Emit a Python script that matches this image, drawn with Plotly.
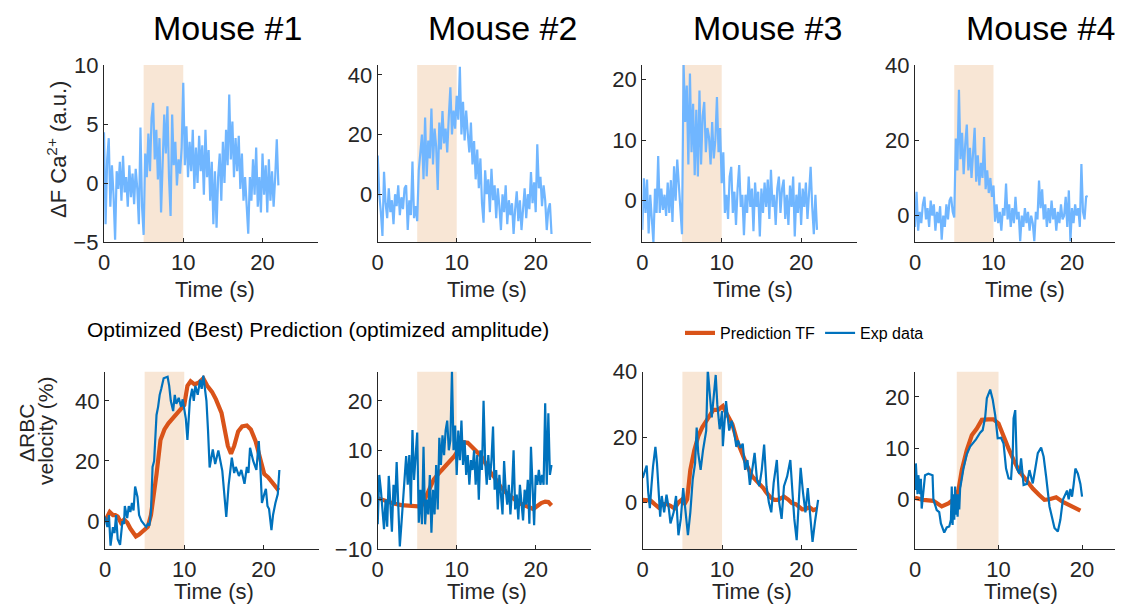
import numpy as np
import plotly.graph_objects as go

# ---------------- data ----------------
mouse_titles = ["Mouse #1", "Mouse #2", "Mouse #3", "Mouse #4"]
xtick_vals = [0, 10, 20]

# Top row: Ca2+ dF traces, sampled every 0.2 s from 0 to 22 s
ca_m1 = [4.3, -3.5, 2.0, 3.8, -2.0, 1.5, -1.0, -4.8, 1.0, -0.5, 1.8, -1.5, 2.3, -0.8, 0.5, -2.0, 1.5, -1.2, 0.8, -1.8,
         1.2, -0.5, -3.5, 4.7, -2.0, -4.4, 2.5, 0.5, 4.2, 1.0, 5.5, 6.8, 2.0, 4.5, 0.3, 3.8, -2.5, 1.5, 5.8, 2.5,
         6.5, 0.5, -2.8, 5.8, 1.5, 3.5, -0.2, 2.0, 0.8, 3.0, 8.5, 1.5, 4.8, 0.5, 3.5, 1.0, 4.5, -0.5, 3.0, 0.0,
         4.0, 1.0, 3.2, -1.0, 4.5, 0.5, 2.8, -1.5, 1.8, -3.5, 1.0, -3.8, 0.5, 2.5, -1.5, 3.5, 0.0, 4.5, 1.5, 7.5,
         2.0, 5.2, 0.5, 3.8, 1.0, 4.0, -0.5, 2.5, -1.5, 0.5, -2.0, -4.3, 0.5, -1.5, 2.0, -1.0, 3.0, -2.0, 0.5, -2.5,
         2.5, -1.0, 1.5, -2.5, 2.0, -1.5, 1.0, -2.0, 0.5, 3.7, -0.2]
ca_m2 = [13, 0, -6, -14, 7.5, -3, -8, 2, -6, -2, -10, 0, -4, 3, -7, -1, -5, 2, 3, -12,
         -2, -7, 11, -8, -4, -9, 8, 14, 20, 5, 25.7, 6, 18, 12, 28.7, 10, 22, 16, 1.4, 24,
         15, 27.9, 17, 22, 14, 26, 35.8, 20, 28, 22, 33, 25, 42.7, 20, 31, 18, 28, 20.5, 14, 24,
         10, 17.8, 5, 15, 2, 12, -3, -9.5, 8, 0, 5, -6, 8.5, -2, 3, -8, 2, -4, -12, 0,
         -6, 3, -10, -2, -7, -3, -13.3, -5, 1, -9, -2, -12, -4, 2, -8, 0, -5, 7.4, -3, 4,
         -6, 16.7, 2, 5.8, -4, 3, -2, -12, -5, -3, -13.3]
ca_m3 = [-4.8, 3.7, -2, 3.5, -5.4, 1, -3, -6.9, 2, -2, 7.4, -2, 2, -1.5, 1, -2.5, 3, -2, 3.4, -3.5,
         5.7, 0, 6.8, 2, -1, -5.5, 22.5, 13, 19, 6, 21, 8, 16, 4.2, 15, 4, 18.2, 6, 14, 16.3,
         8, 12, 10.5, 6, 13, 7, 10, 17.1, 8, 12, 2.9, 8, -2, 1, -3, 4, 5.6, -2, 1.5, -4,
         2, 5.9, -1, 1, -5.7, 1, -2, 4, -1, 2, -5, 3, -1, 1.5, -5.9, 2, -2, 3, -1, 3.5,
         -3, 5.1, -1, 1, -4, 2, 4, -2, 2, 3.5, -3, 1, -4, 2.5, -1, 4, -5.9, 1, -2, 3,
         -4, 2, -1, 3, -3, 1, 5.6, -1, -5.5, 1, -4.8]
ca_m4 = [-3, 6.3, -4, 1, -2, 3, 5, -1, 2, -3, 4, 0, 3, -4, 1, -2, 2.5, -6.4, 0, -3,
         3, -1, 4, 5, 1, -0.5, 20.5, 12, 33.4, 15, 22, 11, 19, 24.2, 12, 18, 10, 17, 23.3, 9,
         16, 8, 14, 10, 20.9, 7, 12, 6, 10, 5, 8, -1.6, 3, -2, 1, -4, 2, 0, 8.5, -1,
         3, -3, 2, -2, 5, -1, 1, -6.8, 0, -3, 2, -2, 1, -4, 0, -2, -6.8, 1, -1, 9.3,
         2, 7, -1, 3, -3, 2, -2, 4, -1, 2, -4, 1, -2, 3, -1, 0, 5, -3, 6.7, -6.8,
         2, -2, 3, 0, 2, -3, 13.7, 1, -1, 5, 5.2]

# Bottom row: RBC velocity, experimental data (time, value)
exp_t1 = [0.0, 0.3, 0.5, 0.7, 1.0, 1.2, 1.4, 1.6, 1.9, 2.2, 2.4, 2.5, 2.8, 3.0, 3.2, 3.4, 3.6, 3.8, 4.1, 4.3,
          4.6, 4.9, 5.2, 5.4, 5.6, 5.8, 6.0, 6.2, 6.5, 6.7, 6.9, 7.1, 7.4, 7.9, 8.1, 8.3, 8.6, 8.8, 9.0, 9.3,
          9.6, 9.8, 10.2, 10.4, 10.7, 11.0, 11.2, 11.4, 11.7, 12.0, 12.2, 12.4, 12.6, 12.8, 13.0, 13.1, 13.2, 13.6, 13.9, 14.3,
          14.8, 15.3, 15.6, 16.0, 16.3, 16.5, 16.9, 17.2, 17.6, 17.9, 18.1, 18.3, 18.7, 19.1, 19.4, 19.6, 19.8, 20.1, 20.3, 20.5,
          20.7, 21.0, 21.2, 21.5, 21.8, 22.0]
exp_v1 = [1.4, -2, 2, -8.2, -2, -4, 2, -6, -7.9, 0, -1, 5, 1, 5, 3, 6, 3.5, 11.5, 8, 2,
          0, -1, -2, -1, -1.5, 3, 18, 20, 35.3, 38, 42, 44, 47.5, 48, 45, 40, 36.6, 42, 39, 41,
          38, 40.5, 34, 27, 40, 44, 40, 45, 42, 47, 44, 48.4, 44, 40, 30, 23.5, 17.8, 23.8, 19, 23.5,
          16.7, 1.4, 12, 21.1, 16, 18, 15, 17, 12.4, 18, 16, 24.4, 20, 17, 26.6, 18, 6, 9, 10.7, 5,
          4, -3, 2, 6, 9, 17]
pred_t1 = [0, 0.6, 1.0, 1.3, 1.6, 2.0, 2.4, 2.8, 3.2, 3.6, 3.9, 4.3, 4.7, 5.0, 5.4, 5.8, 6.1, 6.5, 7.0, 7.5,
           8.0, 8.5, 8.9, 9.5, 10.0, 10.4, 10.8, 11.3, 11.8, 12.4, 12.9, 13.5, 14.0, 14.7, 15.1, 15.5, 15.9, 16.3, 16.8, 17.3,
           17.9, 18.4, 19.0, 19.6, 20.1, 20.6, 21.0, 21.5, 21.9]
pred_v1 = [0, 3, 2, 2, 1.5, -0.5, 0.5, -0.5, -2.5, -4, -5.1, -4.5, -3.5, -3, -1.9, 2, 7, 15.6, 27, 30.5,
           32.5, 34, 35.3, 37, 38.6, 45, 46.5, 45.5, 46, 47.5, 45, 43, 40.5, 36, 31, 25, 22.4, 25, 29.8, 31.5,
           31.8, 30.5, 26.6, 21, 15.6, 14.5, 13, 11.5, 10.2]

exp_v2 = [-5, 5, 2, -2.2, -6, 0, -5.5, 4.8, 0, -6.5, 3, -1, 7.6, -2, -9.5, -5, 0, 5, 8.8, 3,
          9, -1, 14.1, 4, 8, 13.6, -4.7, 2, -5, 10.7, -5, 0, -3, 5, -6.7, 2, -3, 7, -2, 12.5,
          7, 13, 9, 14, 16, 10, 12, 26, 10, 15, 5, 14, 8, 16, 7, 12, 5, 9, 3, 8,
          6, 10, 3, 9, 0, 10, 6, 20, 8, 3, 9, 4, 8, 14.8, 2, 6, -2, 5, 1, -3,
          7.8, 2, -1, 3, -3, 2, 10, -2, 1, -4, 3, -1, -4.2, 2, -1, 4, -4.9, 10.7, 1, -5.2,
          5, 3, 6, 3, 5, 3, 19.5, 3, 17.5, 5, 7]
pred_t2 = [0, 1, 2, 3, 4, 5, 5.5, 6.0, 6.5, 7.1, 8.0, 8.8, 9.7, 10.4, 10.9, 11.4, 11.8, 12.5, 13.1, 13.7,
           14.3, 15.0, 15.6, 16.2, 16.9, 17.5, 18.2, 19.0, 19.7, 20.2, 20.7, 21.2, 21.6, 22.0]
pred_v2 = [0.3, -0.3, -0.8, -1.1, -1.3, -1.4, -1.4, 0.2, 2, 4.1, 5.8, 7.2, 8.8, 10.5, 11.6, 11.5, 10.9, 9.8, 8.8, 7.2,
           5.5, 4, 2.5, 1.5, 0.5, -0.2, -0.9, -1.4, -1.9, -1.3, -0.7, -0.4, -0.5, -1.2]

exp_t3 = [0.0, 0.5, 0.7, 0.9, 1.1, 1.3, 1.6, 1.8, 2.2, 2.4, 2.7, 3.0, 3.3, 3.5, 3.9, 4.2, 4.5, 4.8, 5.1, 5.4,
          5.7, 6.0, 6.3, 6.6, 6.8, 7.0, 7.3, 7.6, 8.0, 8.2, 8.5, 8.7, 9.2, 9.4, 9.7, 10.0, 10.1, 10.5, 10.9, 11.2,
          11.5, 11.8, 12.0, 12.3, 12.6, 12.9, 13.2, 13.5, 13.8, 14.1, 14.4, 14.7, 15.0, 15.3, 15.6, 15.9, 16.2, 16.5, 16.9, 17.2,
          17.5, 17.8, 18.2, 18.6, 18.9, 19.1, 19.4, 19.7, 19.9, 20.2, 20.5, 20.8, 21.1, 21.4, 21.7, 22.1]
exp_v3 = [7.5, 11.3, 3, -1.7, 5, 11, 17, 12, -4.3, 2, -3, 2.4, -2, -6.4, -3, 2, -10, -5, 4.4, -3,
          -10, -3, 7, 12, 22.9, 15, 10, 16, 22, 40.6, 30, 26, 39, 30, 22.4, 28, 17.2, 31, 22, 25,
          21.8, 17, 19, 16.7, 18, 10, 13, 5.4, 10, 15.2, 7, 5, 10, 17.7, 5, 0, -3, 6, 13, 0,
          -5, 5, 8, 13, 2, -5, -11.5, 3, 10.6, 3, -3, 4.4, -5, -12, -6, 0.8]
pred_t3 = [0, 1.0, 1.5, 2.0, 2.5, 3.0, 3.5, 4.0, 4.5, 4.9, 5.3, 5.6, 6.0, 6.5, 7.0, 7.5, 8.0, 8.5, 8.9, 9.5,
           10.1, 10.5, 11.3, 11.9, 12.5, 13.2, 13.8, 14.4, 15.2, 15.6, 16.1, 16.6, 17.0, 17.8, 18.3, 18.8, 19.3, 20.1, 20.5, 21.0,
           21.5, 21.9]
pred_v3 = [0.8, 0.6, -0.5, -1.5, -0.5, -0.5, -1, -1.8, 0, 0.8, -0.3, 1, 10, 16, 20.3, 23, 24.9, 27, 28.3, 28.3,
           29.5, 27.5, 23.9, 18.8, 15, 11, 8, 6.5, 4.4, 3, 1.6, 0.8, 0.8, 1.8, 1, -0.2, -0.5, -2.1, -2, -1.4,
           -2.3, -2]

exp_t4 = [0.0, 0.1, 0.3, 0.4, 0.6, 0.7, 0.8, 1.0, 1.2, 1.6, 2.1, 2.2, 2.6, 2.9, 3.1, 3.5, 3.8, 4.1, 4.3, 4.4,
          4.5, 4.6, 4.7, 4.8, 4.9, 5.0, 5.1, 5.2, 5.3, 5.4, 5.8, 6.2, 6.6, 7.3, 7.8, 8.1, 8.4, 8.6, 9.0, 9.3,
          9.6, 9.9, 10.3, 10.6, 10.9, 11.2, 11.5, 11.7, 11.8, 12.0, 12.2, 12.5, 12.7, 13.0, 13.4, 13.7, 14.1, 14.4, 14.7, 15.1,
          15.4, 15.7, 16.1, 16.7, 17.1, 17.4, 17.7, 18.2, 18.4, 18.6, 18.8, 19.0, 19.2, 19.5, 19.8, 20.0]
exp_v4 = [1.8, 7, 1, 4.7, 1, 4, -1.8, 2, 4.7, 5, 4.7, 0, -2.1, -2.5, -4.7, -6.5, -5.5, -5.3, -4, 2.5,
          -5, 1, -4, 2.5, -3, 1, -3.4, 1, -2, 2.1, 6, 8.8, 10.3, 11.7, 13, 13.5, 16, 19.7, 21.4, 19.5,
          16.4, 11.9, 12, 10.9, 6, 4.1, 4, 9, 15.8, 17.4, 6, 5, 8, 2.8, 3, 5.7, 3.1, 6, 9, 10.1,
          8.3, 4.4, -1.4, -5.6, -6.3, -4, -0.1, 1.7, 0, 2, 0.5, 3, 6, 5, 3, 0.5]
pred_t4 = [0, 1.0, 2.2, 2.8, 3.2, 4.0, 4.8, 5.2, 5.6, 6.2, 6.8, 7.4, 8.0, 8.8, 9.4, 10.0, 10.6, 11.2, 11.8, 12.5,
           13.3, 14.1, 14.9, 15.5, 16.1, 16.9, 17.7, 18.5, 19.3, 19.8]
pred_v4 = [0.3, -0.1, -0.3, -1.1, -1.4, -0.8, 0.2, 1.8, 5.7, 9.6, 12.5, 13.8, 15.5, 15.6, 15.6, 14.8, 12.2, 9.9, 7.7, 5.4,
           3.8, 2.1, 0.8, -0.1, 0, 0.4, -0.5, -1.1, -1.8, -2.2]

top_series = [ca_m1, ca_m2, ca_m3, ca_m4]
exp_series = [(exp_t1, exp_v1), (list(np.linspace(0, 22, len(exp_v2))), exp_v2), (exp_t3, exp_v3), (exp_t4, exp_v4)]
pred_series = [(pred_t1, pred_v1), (pred_t2, pred_v2), (pred_t3, pred_v3), (pred_t4, pred_v4)]

top_yranges = [[-5, 10], [-16, 43.3], [-6.8, 22.4], [-7, 40]]
top_yticks = [[-5, 0, 5, 10], [0, 20, 40], [0, 10, 20], [0, 20, 40]]
bot_yranges = [[-9.3, 49.7], [-10, 25.9], [-14.2, 40], [-9.7, 24.9]]
bot_yticks = [[0, 20, 40], [-10, 0, 10, 20], [0, 20, 40], [0, 10, 20]]
top_xranges = [[0, 27], [0, 27], [0, 27], [0, 26.5]]
bot_xranges = [[0, 27], [0, 27], [0, 27], [0, 24.9]]
stim_window = [5, 10]

# ---------------- layout helpers ----------------
# The page body keeps its default 8px margin, so the figure is drawn 8px in from the
# window corner; size it to fill the rest of the 1123x610 window exactly.
OFF = 8
WIN_W, WIN_H = 1123, 610
W, H = WIN_W - OFF, WIN_H - OFF

def fx(px):
    return (px - OFF) / W

def fy(py):
    return 1 - (py - OFF) / H

def sfx(k):
    return "" if k == 1 else str(k)

top_dom_y = [fy(242), fy(65)]
bot_dom_y = [fy(549), fy(371.7)]
top_dom_x = [(104, 318), (377.7, 591), (642.3, 856.7), (915, 1123)]
bot_dom_x = [(105, 319), (377.7, 591), (642.7, 857), (915, 1123)]

LIGHT_BLUE = "rgb(112,182,255)"
BLUE = "#0072BD"
ORANGE = "#D95319"
SHADE = "rgb(248,230,213)"
AXC = "#262626"
FONT = "Liberation Sans, Arial, sans-serif"

fig = go.Figure()

def axis_style(dom, rng, tickvals):
    return dict(domain=[max(0.0, dom[0]), min(1.0, dom[1])], range=rng, tickvals=tickvals, showline=True,
                linecolor=AXC, linewidth=1.3,
                ticks="inside", ticklen=4, tickwidth=1, tickcolor=AXC, showgrid=False, zeroline=False,
                mirror=False, fixedrange=True, automargin=False,
                tickfont=dict(family=FONT, size=22, color=AXC))

layout_axes = {}
shapes = []
for i in range(4):
    k = i + 1
    s = sfx(k)
    # top
    t = list(np.linspace(0, 22, len(top_series[i])))
    fig.add_trace(go.Scatter(x=t, y=top_series[i], mode="lines", line=dict(color=LIGHT_BLUE, width=2.2),
                             xaxis=f"x{s}", yaxis=f"y{s}", showlegend=False, hoverinfo="skip"))
    layout_axes[f"xaxis{k}"] = axis_style([fx(top_dom_x[i][0]), fx(top_dom_x[i][1])], top_xranges[i], xtick_vals)
    layout_axes[f"xaxis{k}"]["anchor"] = f"y{s}"
    layout_axes[f"yaxis{k}"] = axis_style(top_dom_y, top_yranges[i], top_yticks[i])
    layout_axes[f"yaxis{k}"]["anchor"] = f"x{s}"
    shapes.append(dict(type="rect", xref=f"x{s}", yref=f"y{s} domain", x0=stim_window[0], x1=stim_window[1],
                       y0=0, y1=1, fillcolor=SHADE, line=dict(width=0), layer="below"))
    # bottom
    kb = i + 5
    sb = sfx(kb)
    et, ev = exp_series[i]
    pt, pv = pred_series[i]
    fig.add_trace(go.Scatter(x=pt, y=pv, mode="lines", line=dict(color=ORANGE, width=4.2),
                             xaxis=f"x{sb}", yaxis=f"y{sb}", name="Prediction TF", showlegend=(i == 0),
                             hoverinfo="skip"))
    fig.add_trace(go.Scatter(x=et, y=ev, mode="lines", line=dict(color=BLUE, width=2.2),
                             xaxis=f"x{sb}", yaxis=f"y{sb}", name="Exp data", showlegend=(i == 0),
                             hoverinfo="skip"))
    layout_axes[f"xaxis{kb}"] = axis_style([fx(bot_dom_x[i][0]), fx(bot_dom_x[i][1])], bot_xranges[i], xtick_vals)
    layout_axes[f"xaxis{kb}"]["anchor"] = f"y{sb}"
    layout_axes[f"yaxis{kb}"] = axis_style(bot_dom_y, bot_yranges[i], bot_yticks[i])
    layout_axes[f"yaxis{kb}"]["anchor"] = f"x{sb}"
    shapes.append(dict(type="rect", xref=f"x{sb}", yref=f"y{sb} domain", x0=stim_window[0], x1=stim_window[1],
                       y0=0, y1=1, fillcolor=SHADE, line=dict(width=0), layer="below"))

annotations = []
title_cx = [228, 502, 767, 1040]
for i, ttl in enumerate(mouse_titles):
    annotations.append(dict(text=ttl, x=fx(title_cx[i]), y=fy(8), xref="paper", yref="paper",
                            xanchor="center", yanchor="top", showarrow=False, borderpad=0,
                            font=dict(family=FONT, size=34, color="#000000")))
top_xl = [215, 487, 753, 1025]
bot_xl = [214, 487, 752, 1021]
for i in range(4):
    annotations.append(dict(text="Time (s)", x=fx(top_xl[i]), y=fy(289), xref="paper", yref="paper",
                            xanchor="center", yanchor="middle", showarrow=False,
                            font=dict(family=FONT, size=22, color=AXC)))
    annotations.append(dict(text=("Time(s)" if i == 3 else "Time (s)"), x=fx(bot_xl[i]), y=fy(591),
                            xref="paper", yref="paper", xanchor="center", yanchor="middle", showarrow=False,
                            font=dict(family=FONT, size=22, color=AXC)))
annotations.append(dict(text="ΔF Ca<sup>2+</sup> (a.u.)", x=fx(57), y=fy(150), xref="paper", yref="paper",
                        textangle=-90, xanchor="center", yanchor="middle", showarrow=False,
                        font=dict(family=FONT, size=22, color=AXC)))
annotations.append(dict(text="ΔRBC", x=fx(26), y=fy(433), xref="paper", yref="paper",
                        textangle=-90, xanchor="center", yanchor="middle", showarrow=False,
                        font=dict(family=FONT, size=21, color=AXC)))
annotations.append(dict(text="velocity (%)", x=fx(45), y=fy(431), xref="paper", yref="paper",
                        textangle=-90, xanchor="center", yanchor="middle", showarrow=False,
                        font=dict(family=FONT, size=21, color=AXC)))
annotations.append(dict(text="Optimized (Best) Prediction (optimized amplitude)", x=fx(85), y=fy(330),
                        xref="paper", yref="paper", xanchor="left", yanchor="middle", showarrow=False,
                        font=dict(family=FONT, size=21, color="#000000")))

fig.update_layout(
    template="none",
    width=W, height=H, margin=dict(l=0, r=0, t=0, b=0, autoexpand=False),
    paper_bgcolor="white", plot_bgcolor="rgba(0,0,0,0)",
    shapes=shapes, annotations=annotations,
    legend=dict(orientation="h", x=fx(680), y=fy(316), xanchor="left", yanchor="top",
                font=dict(family=FONT, size=16, color="#000000"), bgcolor="rgba(0,0,0,0)",
                itemwidth=30, tracegroupgap=0),
    **layout_axes,
)

fig.write_html("out.html")
